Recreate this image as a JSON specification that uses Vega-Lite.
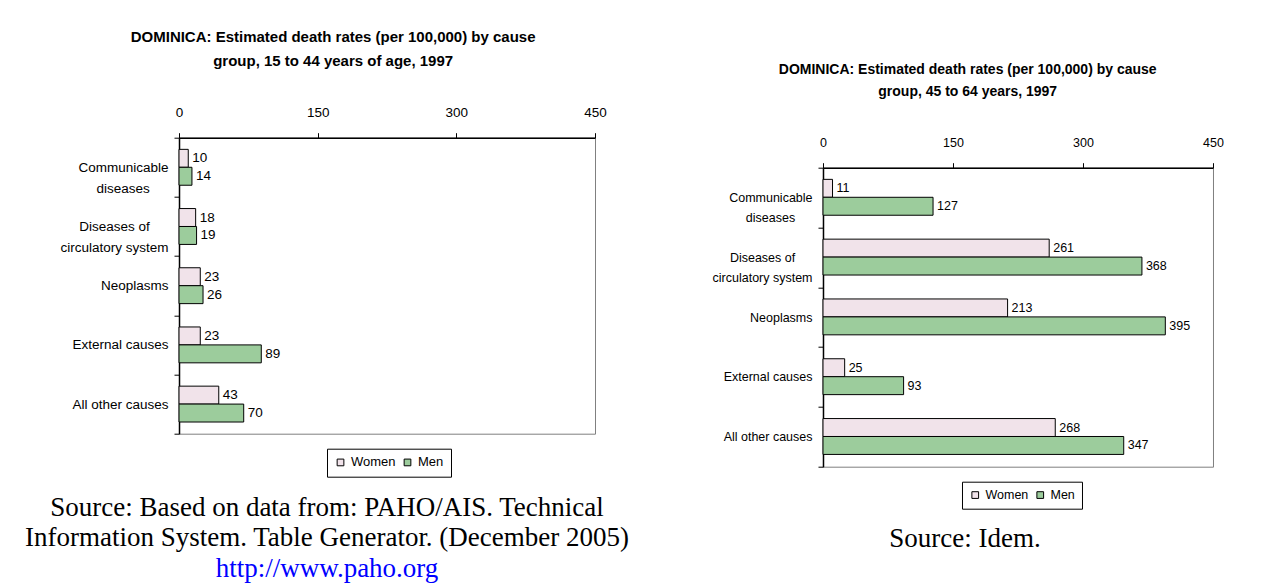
{
  "$schema": "https://vega.github.io/schema/vega-lite/v6.json",
  "background": "white",
  "padding": {"left": 24, "top": 29.7, "right": 0, "bottom": 0},
  "config": {"view": {"stroke": null}, "font": "Liberation Sans"},
  "datasets": {
    "young": [
      {"cause": "Communicable diseases", "sex": "Women", "rate": 10},
      {"cause": "Communicable diseases", "sex": "Men", "rate": 14},
      {"cause": "Diseases of circulatory system", "sex": "Women", "rate": 18},
      {"cause": "Diseases of circulatory system", "sex": "Men", "rate": 19},
      {"cause": "Neoplasms", "sex": "Women", "rate": 23},
      {"cause": "Neoplasms", "sex": "Men", "rate": 26},
      {"cause": "External causes", "sex": "Women", "rate": 23},
      {"cause": "External causes", "sex": "Men", "rate": 89},
      {"cause": "All other causes", "sex": "Women", "rate": 43},
      {"cause": "All other causes", "sex": "Men", "rate": 70}
    ],
    "old": [
      {"cause": "Communicable diseases", "sex": "Women", "rate": 11},
      {"cause": "Communicable diseases", "sex": "Men", "rate": 127},
      {"cause": "Diseases of circulatory system", "sex": "Women", "rate": 261},
      {"cause": "Diseases of circulatory system", "sex": "Men", "rate": 368},
      {"cause": "Neoplasms", "sex": "Women", "rate": 213},
      {"cause": "Neoplasms", "sex": "Men", "rate": 395},
      {"cause": "External causes", "sex": "Women", "rate": 25},
      {"cause": "External causes", "sex": "Men", "rate": 93},
      {"cause": "All other causes", "sex": "Women", "rate": 268},
      {"cause": "All other causes", "sex": "Men", "rate": 347}
    ]
  },
  "spacing": 81,
  "resolve": {"scale": {"color": "independent"}, "legend": {"color": "independent"}},
  "hconcat": [
    {
      "bounds": "flush",
      "spacing": 59,
      "vconcat": [
        {
          "width": 416,
          "height": 296,
          "view": {"stroke": "#808080", "strokeWidth": 1},
          "title": {
            "text": ["DOMINICA: Estimated death rates (per 100,000) by cause", "group, 15 to 44 years of age, 1997"],
            "font": "Liberation Sans", "fontSize": 15, "fontWeight": "bold", "color": "#000000",
            "lineHeight": 24, "offset": 36.5, "anchor": "middle", "frame": "bounds"
          },
          "data": {"name": "young"},
          "encoding": {
            "y": {
              "field": "cause", "type": "nominal",
              "sort": ["Communicable diseases", "Diseases of circulatory system", "Neoplasms", "External causes", "All other causes"],
              "scale": {"paddingInner": 0, "paddingOuter": 0},
              "axis": {
                "title": null, "domainColor": "#000000", "domainWidth": 1.5, "tickColor": "#000000", "tickSize": 5,
                "tickBand": "extent", "labelFontSize": 13.5, "labelColor": "#000000", "labelPadding": 6, "labelLineHeight": 21,
                "labelExpr": "datum.value == 'Communicable diseases' ? ['Communicable', 'diseases\u00a0\u00a0\u00a0\u00a0\u00a0\u200b'] : datum.value == 'Diseases of circulatory system' ? ['Diseases of\u00a0\u00a0\u00a0\u00a0\u00a0\u200b', 'circulatory system'] : datum.value"
              }
            },
            "yOffset": {"field": "sex", "type": "nominal", "sort": ["Women", "Men"], "scale": {"paddingInner": 0, "paddingOuter": 0.65}},
            "x": {
              "field": "rate", "type": "quantitative",
              "scale": {"domain": [0, 450], "nice": false},
              "axis": {
                "orient": "top", "values": [0, 150, 300, 450], "title": null, "grid": false,
                "domainColor": "#000000", "domainWidth": 1.5, "tickColor": "#000000", "tickSize": 5,
                "labelFontSize": 13.5, "labelColor": "#000000", "labelPadding": 13, "labelFlush": false
              }
            }
          },
          "layer": [
            {
              "mark": {"type": "bar", "stroke": "#000000", "strokeWidth": 1},
              "encoding": {
                "color": {
                  "field": "sex", "type": "nominal",
                  "scale": {"domain": ["Women", "Men"], "range": ["#f1e3ea", "#9ccc9c"]},
                  "legend": {
                    "orient": "none", "legendX": 148, "legendY": 311, "direction": "horizontal", "title": null,
                    "strokeColor": "#000000", "fillColor": "#ffffff", "padding": 7, "symbolType": "square", "symbolSize": 45,
                    "symbolStrokeColor": "#000000", "symbolStrokeWidth": 1, "labelFontSize": 13, "labelColor": "#000000",
                    "columnPadding": 5, "labelOffset": 4
                  }
                }
              }
            },
            {
              "mark": {"type": "text", "align": "left", "baseline": "middle", "dx": 4, "fontSize": 13.5, "color": "#000000"},
              "encoding": {"text": {"field": "rate", "type": "quantitative"}}
            }
          ]
        },
        {
          "width": 296,
          "height": 91.5,
          "data": {"values": [
            {"line": "Source: Based on data from: PAHO/AIS. Technical", "kind": "text", "n": 1},
            {"line": "Information System. Table Generator. (December 2005)", "kind": "text", "n": 2},
            {"line": "http://www.paho.org", "kind": "link", "n": 3}
          ]},
          "mark": {"type": "text", "font": "Liberation Serif", "fontSize": 27, "baseline": "middle", "align": "center"},
          "encoding": {
            "y": {"field": "n", "type": "ordinal", "axis": null, "scale": {"paddingInner": 0, "paddingOuter": 0}},
            "text": {"field": "line"},
            "color": {"condition": {"test": "datum.kind == 'link'", "value": "#0000ff"}, "value": "#000000"}
          }
        }
      ]
    },
    {
      "bounds": "flush",
      "spacing": 4,
      "vconcat": [
        {
          "width": 1,
          "height": 25.9,
          "data": {"values": []},
          "mark": "point"
        },
        {
          "width": 390,
          "height": 299,
          "view": {"stroke": "#808080", "strokeWidth": 1},
          "title": {
            "text": ["DOMINICA: Estimated death rates (per 100,000) by cause", "group, 45 to 64 years, 1997"],
            "font": "Liberation Sans", "fontSize": 14, "fontWeight": "bold", "color": "#000000",
            "lineHeight": 21.5, "offset": 38, "anchor": "middle", "frame": "bounds"
          },
          "data": {"name": "old"},
          "encoding": {
            "y": {
              "field": "cause", "type": "nominal",
              "sort": ["Communicable diseases", "Diseases of circulatory system", "Neoplasms", "External causes", "All other causes"],
              "scale": {"paddingInner": 0, "paddingOuter": 0},
              "axis": {
                "title": null, "domainColor": "#000000", "domainWidth": 1.5, "tickColor": "#000000", "tickSize": 5,
                "tickBand": "extent", "labelFontSize": 12.5, "labelColor": "#000000", "labelPadding": 6, "labelLineHeight": 20,
                "labelExpr": "datum.value == 'Communicable diseases' ? ['Communicable', 'diseases\u00a0\u00a0\u00a0\u00a0\u00a0\u200b'] : datum.value == 'Diseases of circulatory system' ? ['Diseases of\u00a0\u00a0\u00a0\u00a0\u00a0\u200b', 'circulatory system'] : datum.value"
              }
            },
            "yOffset": {"field": "sex", "type": "nominal", "sort": ["Women", "Men"], "scale": {"paddingInner": 0, "paddingOuter": 0.65}},
            "x": {
              "field": "rate", "type": "quantitative",
              "scale": {"domain": [0, 450], "nice": false},
              "axis": {
                "orient": "top", "values": [0, 150, 300, 450], "title": null, "grid": false,
                "domainColor": "#000000", "domainWidth": 1.5, "tickColor": "#000000", "tickSize": 5,
                "labelFontSize": 12.5, "labelColor": "#000000", "labelPadding": 13, "labelFlush": false
              }
            }
          },
          "layer": [
            {
              "mark": {"type": "bar", "stroke": "#000000", "strokeWidth": 1},
              "encoding": {
                "color": {
                  "field": "sex", "type": "nominal",
                  "scale": {"domain": ["Women", "Men"], "range": ["#f1e3ea", "#9ccc9c"]},
                  "legend": {
                    "orient": "none", "legendX": 139, "legendY": 344, "direction": "horizontal", "title": null,
                    "strokeColor": "#000000", "fillColor": "#ffffff", "padding": 7, "symbolType": "square", "symbolSize": 45,
                    "symbolStrokeColor": "#000000", "symbolStrokeWidth": 1, "labelFontSize": 12.5, "labelColor": "#000000",
                    "columnPadding": 5, "labelOffset": 4
                  }
                }
              }
            },
            {
              "mark": {"type": "text", "align": "left", "baseline": "middle", "dx": 4, "fontSize": 12.5, "color": "#000000"},
              "encoding": {"text": {"field": "rate", "type": "quantitative"}}
            }
          ]
        },
        {
          "width": 284,
          "height": 136,
          "data": {"values": [{"line": "Source: Idem.", "n": 1}]},
          "mark": {"type": "text", "font": "Liberation Serif", "fontSize": 27, "baseline": "middle", "align": "center", "color": "#000000"},
          "encoding": {
            "y": {"field": "n", "type": "ordinal", "axis": null, "scale": {"paddingInner": 0, "paddingOuter": 0}},
            "text": {"field": "line"}
          }
        }
      ]
    }
  ]
}
